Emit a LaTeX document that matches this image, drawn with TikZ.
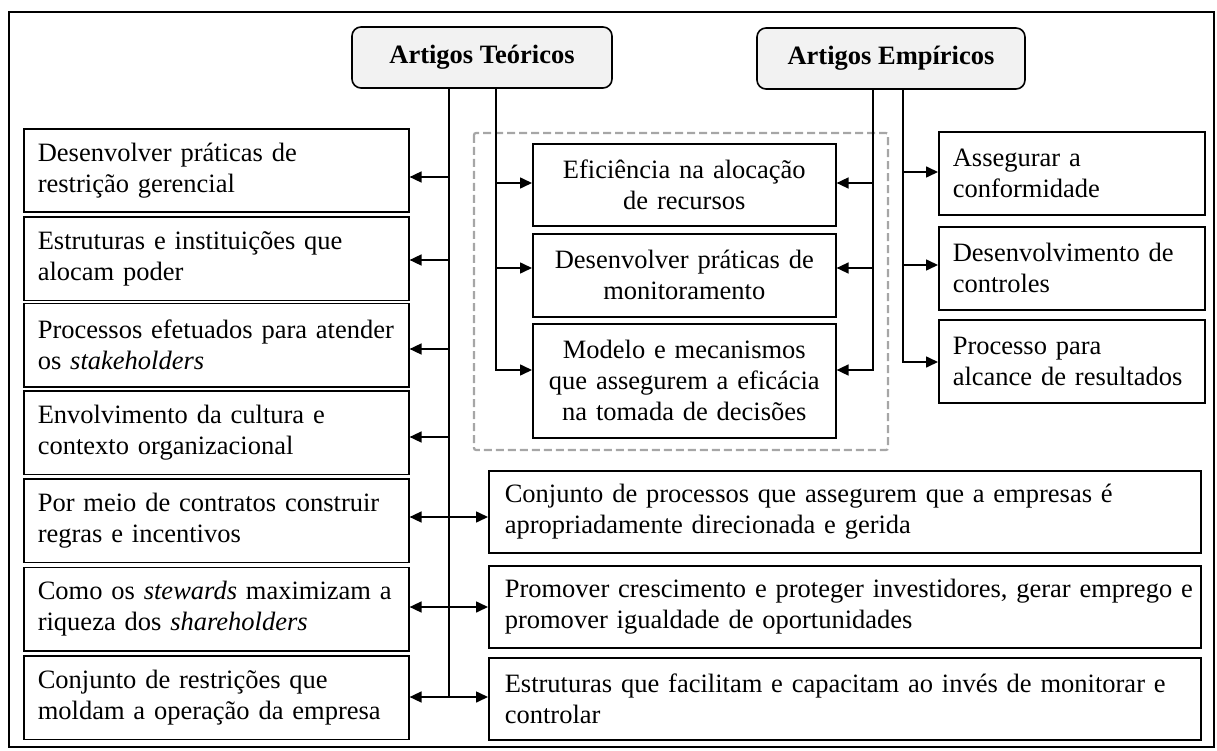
\documentclass[tikz,border=0pt]{standalone}
\usepackage{fontspec}
\setmainfont{Liberation Serif}
\usetikzlibrary{arrows.meta}
\definecolor{hdrfill}{HTML}{F2F2F2}
\definecolor{dashgray}{HTML}{A6A6A6}
\newcommand{\myfs}{\fontsize{26.5}{31}\selectfont}
\begin{document}
\begin{tikzpicture}[x=1pt,y=-1pt,
  box/.style={draw, line width=1.6pt, rectangle, inner xsep=14pt, inner ysep=0pt, font=\myfs, anchor=north west},
  lbox/.style={box, align=left, text width=357pt, minimum width=385pt, minimum height=83.5pt},
  mbox/.style={box, align=center, text width=275pt, minimum width=303pt},
  rbox/.style={box, align=left, text width=238pt, minimum width=266pt, minimum height=83pt},
  wbox/.style={box, align=left, inner xsep=16pt, text width=680pt, minimum width=712pt, minimum height=82pt},
  hdr/.style={draw, line width=1.6pt, rounded corners=9pt, fill=hdrfill, font=\myfs\bfseries, minimum height=61pt, inner sep=0pt},
  ln/.style={line width=1.6pt},
  arr/.style={line width=1.6pt, -{Triangle[length=12pt,width=11pt]}},
  arrb/.style={line width=1.6pt, {Triangle[length=12pt,width=11pt]}-{Triangle[length=12pt,width=11pt]}}
]
\useasboundingbox (0,0) rectangle (1217,751);
\draw[line width=1.6pt] (9,12) rectangle (1214,747);

% headers
\node[hdr, minimum width=260pt] (teo) at (482,57.5) {Artigos Teóricos};
\node[hdr, minimum width=268pt] (emp) at (891,58.5) {Artigos Empíricos};

% dashed group
\draw[dashgray, line width=2.2pt, dash pattern=on 8pt off 4pt, rounded corners=2pt] (474,133) rectangle (888,450);

% left column
\node[lbox] (l1) at (23,128) {\mbox{Desenvolver práticas de}\\\mbox{restrição gerencial}};
\node[lbox] (l2) at (23,216) {\mbox{Estruturas e instituições que}\\\mbox{alocam poder}};
\node[lbox] (l3) at (23,302.5) {\mbox{Processos efetuados para atender}\\\mbox{os \textit{stakeholders}}};
\node[lbox] (l4) at (23,390) {\mbox{Envolvimento da cultura e}\\\mbox{contexto organizacional}};
\node[lbox] (l5) at (23,478) {\mbox{Por meio de contratos construir}\\\mbox{regras e incentivos}};
\node[lbox] (l6) at (23,566.5) {\mbox{Como os \textit{stewards} maximizam a}\\\mbox{riqueza dos \textit{shareholders}}};
\node[lbox] (l7) at (23,655) {\mbox{Conjunto de restrições que}\\\mbox{moldam a operação da empresa}};

% middle column
\node[mbox, minimum height=82pt] (m1) at (532,143) {Eficiência na alocação\\de recursos};
\node[mbox, minimum height=83pt] (m2) at (532,233) {Desenvolver práticas de\\monitoramento};
\node[mbox, minimum height=114pt] (m3) at (532,323) {Modelo e mecanismos\\que assegurem a eficácia\\na tomada de decisões};

% right column
\node[rbox] (r1) at (938,131) {\mbox{Assegurar a}\\\mbox{conformidade}};
\node[rbox] (r2) at (938,226) {\mbox{Desenvolvimento de}\\\mbox{controles}};
\node[rbox] (r3) at (938,319) {\mbox{Processo para}\\\mbox{alcance de resultados}};

% wide boxes
\node[wbox] (w1) at (488,470) {\mbox{Conjunto de processos que assegurem que a empresas é}\\\mbox{apropriadamente direcionada e gerida}};
\node[wbox] (w2) at (488,565) {\mbox{Promover crescimento e proteger investidores, gerar emprego e}\\\mbox{promover igualdade de oportunidades}};
\node[wbox] (w3) at (488,657) {\mbox{Estruturas que facilitam e capacitam ao invés de monitorar e}\\\mbox{controlar}};

% trunk coordinates
\coordinate (ta) at (449,697);
\coordinate (tb) at (496,370);
\coordinate (ea) at (873,370);
\coordinate (eb) at (903,362);

% Teóricos trunks
\draw[ln] (teo.south -| ta) -- (ta);
\draw[arr] (teo.south -| tb) -- (tb) -- (tb -| m3.west);

% left arrows
\coordinate (a1) at (449,177);
\coordinate (a2) at (449,260);
\coordinate (a3) at (449,349);
\coordinate (a4) at (449,437);
\draw[arr] (a1) -- (a1 -| l1.east);
\draw[arr] (a2) -- (a2 -| l2.east);
\draw[arr] (a3) -- (a3 -| l3.east);
\draw[arr] (a4) -- (a4 -| l4.east);

% bidirectional
\coordinate (c1) at (449,517);
\coordinate (c2) at (449,607);
\draw[arrb] (c1 -| l5.east) -- (c1 -| w1.west);
\draw[arrb] (c2 -| l6.east) -- (c2 -| w2.west);
\draw[arrb] (ta -| l7.east) -- (ta -| w3.west);

% middle arrows from Teóricos
\coordinate (b1) at (496,183);
\coordinate (b2) at (496,268);
\draw[arr] (b1) -- (b1 -| m1.west);
\draw[arr] (b2) -- (b2 -| m2.west);

% Empíricos trunks
\draw[arr] (emp.south -| ea) -- (ea) -- (ea -| m3.east);
\draw[arr] (emp.south -| eb) -- (eb) -- (eb -| r3.west);
\coordinate (e1) at (873,183);
\coordinate (e2) at (873,268);
\draw[arr] (e1) -- (e1 -| m1.east);
\draw[arr] (e2) -- (e2 -| m2.east);
\coordinate (f1) at (903,172);
\coordinate (f2) at (903,265);
\draw[arr] (f1) -- (f1 -| r1.west);
\draw[arr] (f2) -- (f2 -| r2.west);
\end{tikzpicture}
\end{document}
